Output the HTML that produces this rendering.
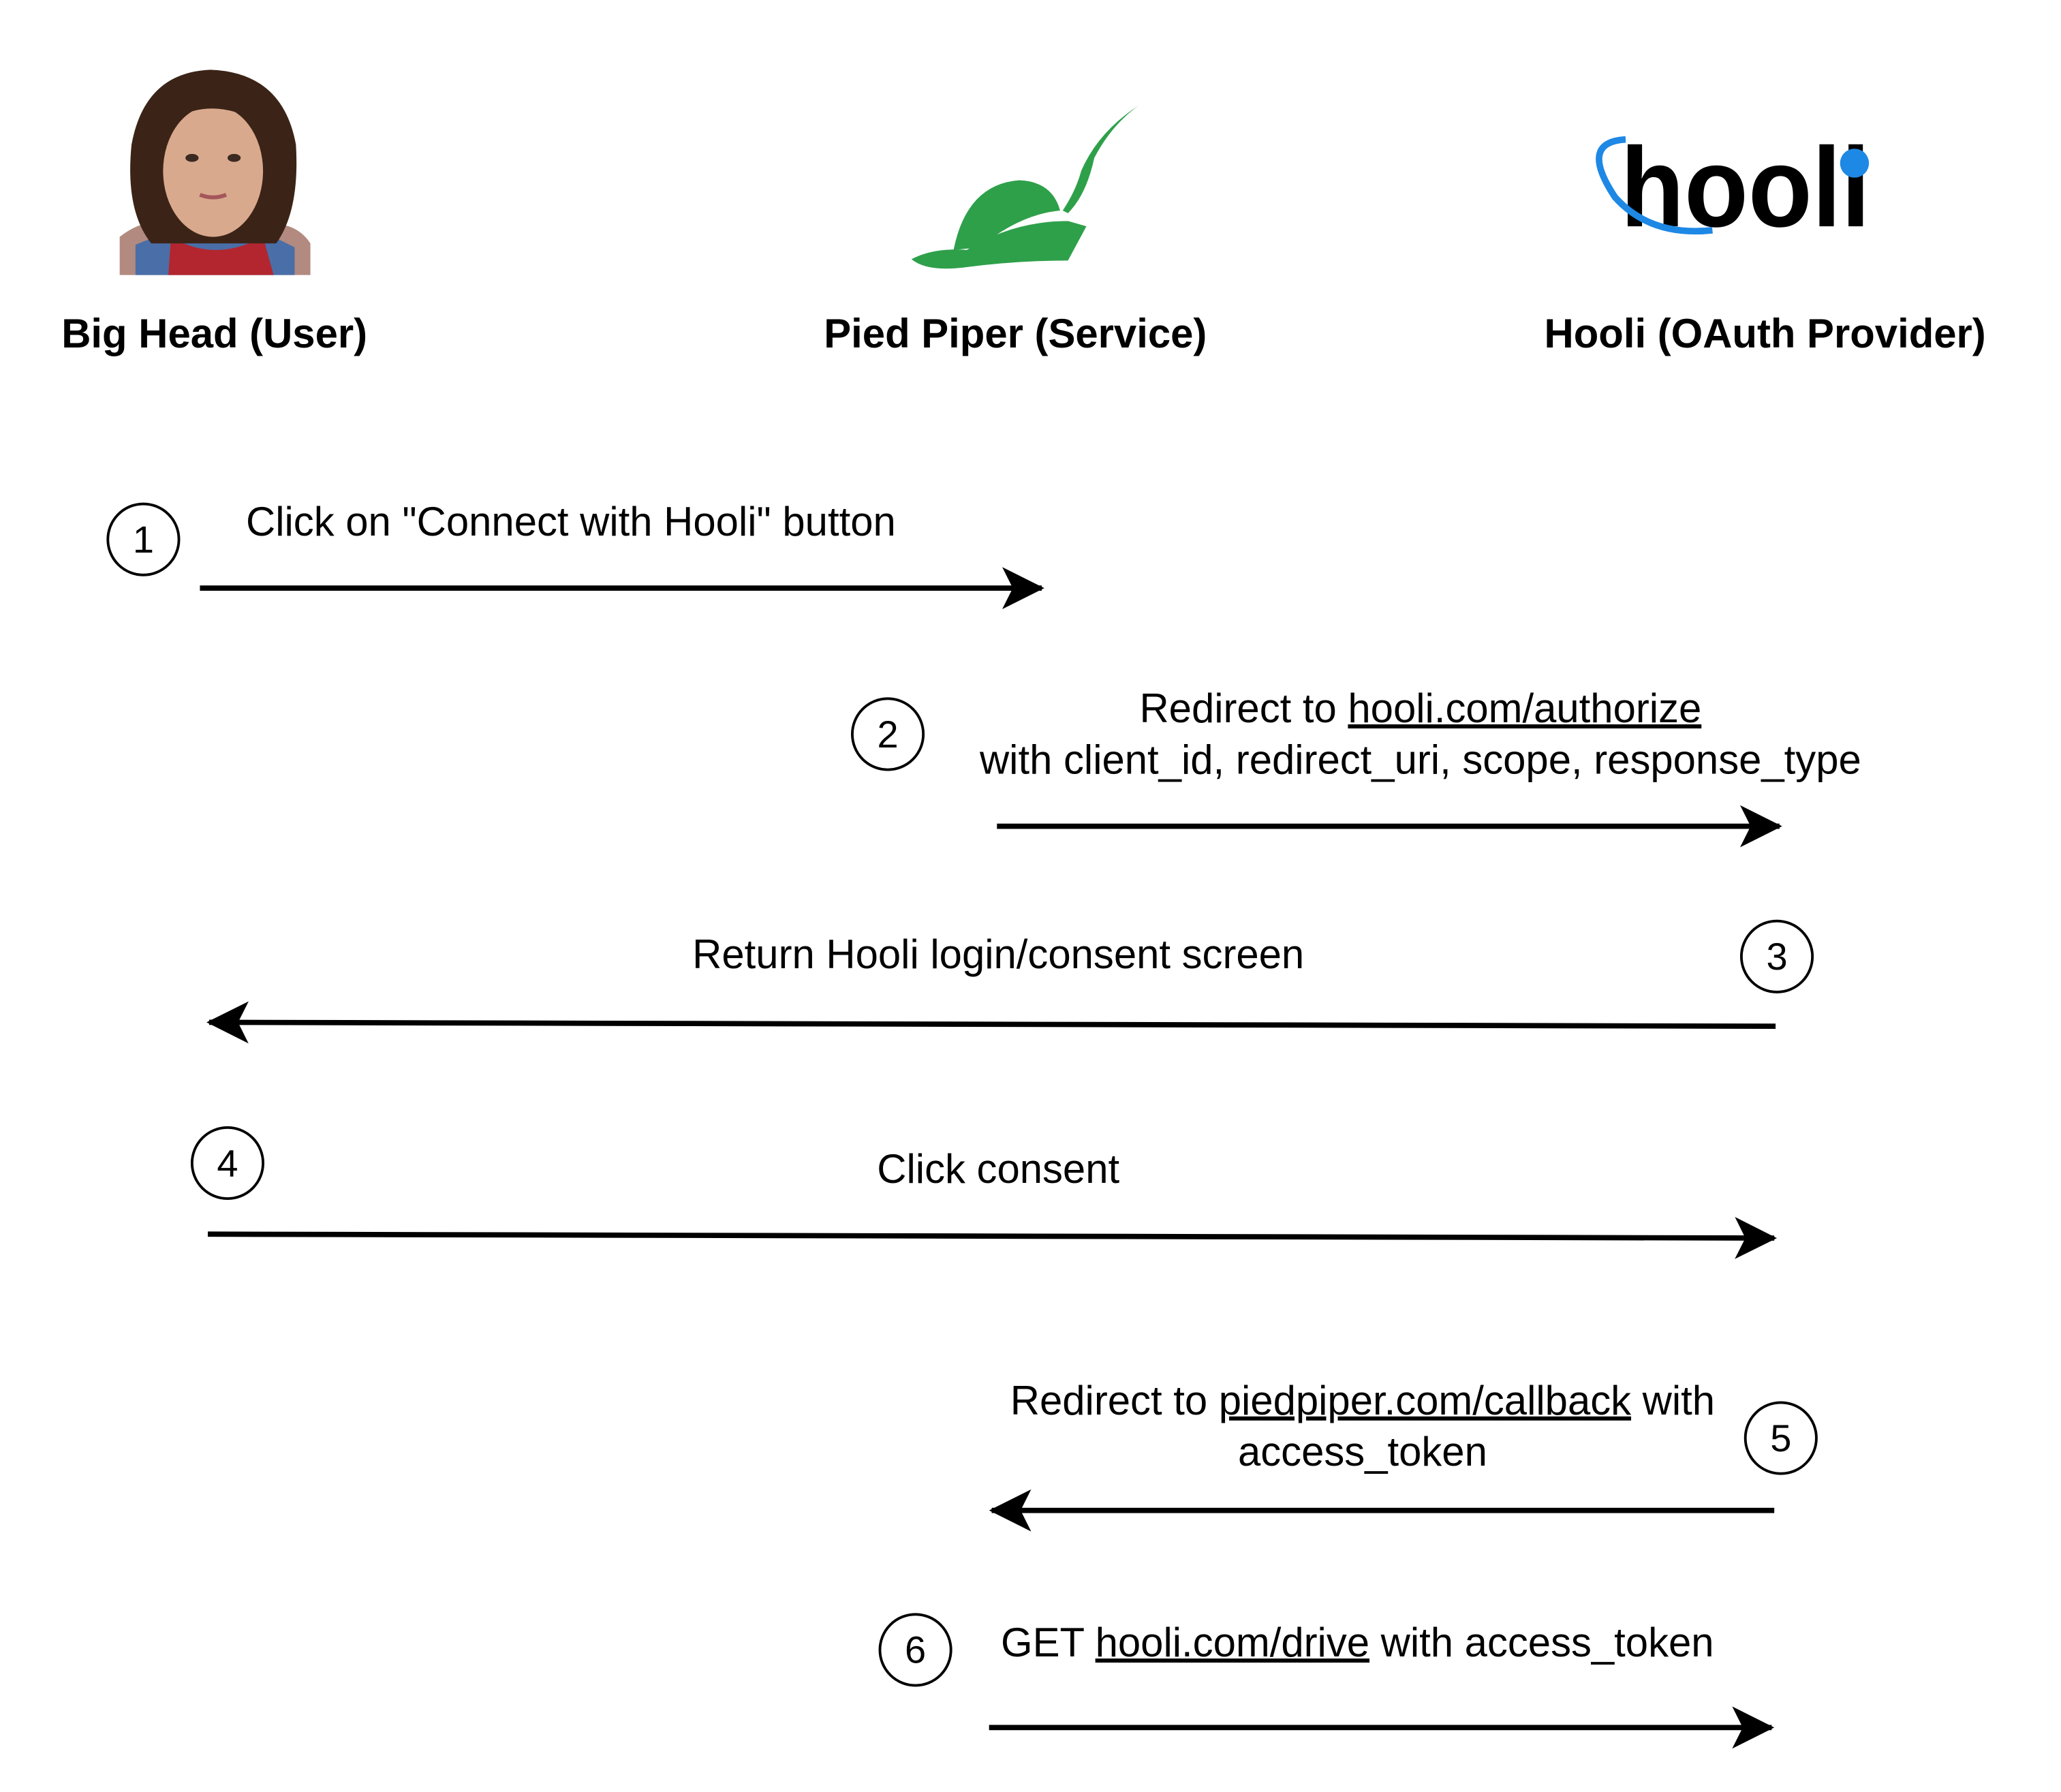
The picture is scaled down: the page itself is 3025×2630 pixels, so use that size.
<!DOCTYPE html>
<html><head><meta charset="utf-8"><style>
html,body{margin:0;padding:0;background:#fff;}
svg{display:block;}
text{font-family:"Liberation Sans",Arial,sans-serif;}
</style></head><body>
<svg width="3025" height="2630" viewBox="0 0 1567 1362" preserveAspectRatio="none" xmlns="http://www.w3.org/2000/svg">
<defs>
<marker id="ah" markerWidth="34" markerHeight="34" refX="30" refY="16" orient="auto" markerUnits="userSpaceOnUse">
<path d="M0,0 L32,16 L0,32 L8,16 Z" fill="#000"/>
</marker>
</defs>
<rect width="1567" height="1362" fill="#fff"/>

<g>
<path d="M91,180 Q110,165 130,170 L200,170 Q225,168 236,185 L236,209 L91,209 Z" fill="#b28a80"/>
<path d="M103,186 L128,176 L200,176 L224,188 L224,209 L103,209 Z" fill="#4a6ea8"/>
<path d="M130,180 Q163,200 200,180 L208,209 L128,209 Z" fill="#b3262f"/>
<path d="M100,110 Q110,55 160,53 Q215,55 225,110 Q228,160 210,185 L115,185 Q95,160 100,110 Z" fill="#3b2417"/>
<ellipse cx="162" cy="130" rx="38" ry="50" fill="#d9a98e"/>
<path d="M125,95 Q160,70 200,95 Q190,78 162,75 Q132,78 125,95 Z" fill="#3b2417"/>
<ellipse cx="146" cy="120" rx="5" ry="3" fill="#3a2a22"/>
<ellipse cx="178" cy="120" rx="5" ry="3" fill="#3a2a22"/>
<path d="M152,148 Q162,152 172,148" stroke="#a5565a" stroke-width="3" fill="none"/>
</g>

<g fill="#2ea04a">
<path d="M866,80 Q835,100 822,130 Q818,145 808,160 L812,162 Q826,148 832,120 Q845,95 866,80 Z"/>
<path d="M725,190 Q735,140 775,137 Q800,138 806,160 Q775,163 745,188 Z"/>
<path d="M693,197 Q710,188 735,190 Q770,168 812,168 L826,172 L812,198 Q775,198 735,203 Q705,207 693,197 Z"/>
</g>

<g>
<text x="1232" y="172" font-size="86" font-weight="bold" fill="#000" textLength="190" lengthAdjust="spacingAndGlyphs">hooli</text>
<path d="M1236,106 Q1200,108 1228,150 Q1255,180 1302,175" stroke="#1e88e5" stroke-width="5" fill="none"/>
<circle cx="1410" cy="124" r="11" fill="#1e88e5"/>
</g>

<g font-size="31" font-weight="bold" text-anchor="middle" fill="#000">
<text x="163" y="264">Big Head (User)</text>
<text x="772" y="264">Pied Piper (Service)</text>
<text x="1342" y="264">Hooli (OAuth Provider)</text>
</g>

<g fill="#fff" stroke="#000" stroke-width="2">
<circle cx="109" cy="410" r="27"/>
<circle cx="675" cy="558" r="27"/>
<circle cx="1351" cy="727" r="27"/>
<circle cx="173" cy="884" r="27"/>
<circle cx="1354" cy="1093" r="27"/>
<circle cx="696" cy="1254" r="27"/>
</g>
<g font-size="29" text-anchor="middle" fill="#000">
<text x="109" y="420">1</text>
<text x="675" y="568">2</text>
<text x="1351" y="737">3</text>
<text x="173" y="894">4</text>
<text x="1354" y="1103">5</text>
<text x="696" y="1264">6</text>
</g>

<g font-size="31" fill="#000">
<text x="187" y="407">Click on "Connect with Hooli" button</text>
<text x="1080" y="549" text-anchor="middle">Redirect to <tspan text-decoration="underline">hooli.com/authorize</tspan></text>
<text x="1080" y="588" text-anchor="middle">with client_id, redirect_uri, scope, response_type</text>
<text x="759" y="736" text-anchor="middle">Return Hooli login/consent screen</text>
<text x="759" y="899" text-anchor="middle">Click consent</text>
<text x="1036" y="1075" text-anchor="middle">Redirect to <tspan text-decoration="underline">piedpiper.com/callback</tspan> with</text>
<text x="1036" y="1114" text-anchor="middle">access_token</text>
<text x="761" y="1259">GET <tspan text-decoration="underline">hooli.com/drive</tspan> with access_token</text>
</g>

<g stroke="#000" stroke-width="4" fill="none" marker-end="url(#ah)">
<line x1="152" y1="447" x2="792" y2="447"/>
<line x1="758" y1="628" x2="1353" y2="628"/>
<line x1="1350" y1="780" x2="159" y2="777"/>
<line x1="158" y1="938" x2="1349" y2="941"/>
<line x1="1349" y1="1148" x2="754" y2="1148"/>
<line x1="752" y1="1313" x2="1347" y2="1313"/>
</g>
</svg>
</body></html>
